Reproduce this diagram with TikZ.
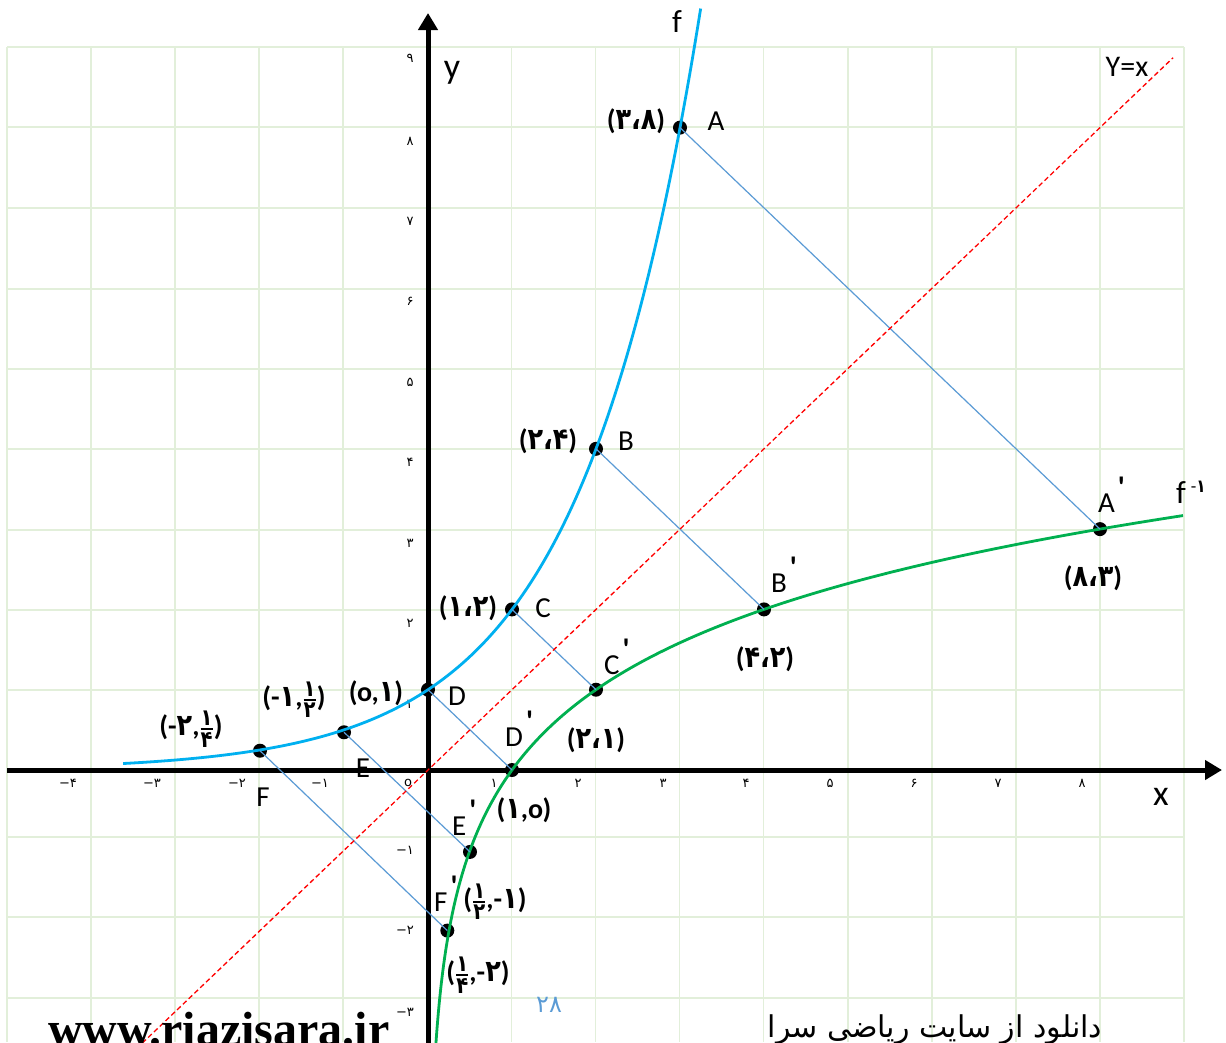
\documentclass[tikz,border=0pt]{standalone}
\usepackage{fontspec}
\usepackage{amsmath}
\usetikzlibrary{arrows.meta}
\TeXXeTstate=1
\setmainfont{Carlito}
\newfontfamily\lat{Carlito}
\newfontfamily\fd[FakeStretch=0.85]{DejaVu Sans}
\newfontfamily\fdr{DejaVu Sans}
\newfontfamily\arfont[Script=Arabic]{DejaVu Sans}
\newfontfamily\webfont{Liberation Serif}
\definecolor{gridgreen}{HTML}{E2EFDA}
\definecolor{fblue}{HTML}{00B0F0}
\definecolor{fgreen}{HTML}{00B050}
\definecolor{connblue}{HTML}{5B9BD5}
\newcommand\pdig[1]{\hbox{\fd\bfseries\fontsize{30pt}{30pt}\selectfont #1}}
\newcommand\sdig[1]{\hbox{\fd\bfseries\fontsize{23pt}{23pt}\selectfont #1}}
\newcommand\pfrac[2]{\ensuremath{\genfrac{}{}{2pt}{}{\sdig{#1}}{\sdig{#2}}}}
\newcommand\primemark{\hspace{3pt}\raisebox{15pt}{\fontsize{30pt}{30pt}\selectfont\bfseries\textquotesingle}}
\begin{document}
\begin{tikzpicture}[x=1pt,y=-1pt,
  gridline/.style={draw=gridgreen,line width=1.6pt},
  axisline/.style={line width=5pt,-{Triangle[length=17pt,width=19pt]}},
  fcurve/.style={draw=fblue,line width=2.8pt},
  gcurve/.style={draw=fgreen,line width=2.8pt},
  conn/.style={draw=connblue,line width=1.2pt},
  diag/.style={draw=red,line width=1.3pt,dash pattern=on 5pt off 3pt},
  dot/.style={circle,fill=black,inner sep=0pt,minimum size=14pt},
  plab/.style={font=\lat\fontsize{29pt}{29pt}\selectfont,inner sep=0pt},
  plabw/.style={font=\lat\fontsize{29pt}{29pt}\selectfont,inner sep=0pt,anchor=base west},
  clab/.style={font=\lat\bfseries\fontsize{28pt}{28pt}\selectfont,inner sep=0pt},
  axlab/.style={font=\lat\fontsize{36pt}{36pt}\selectfont,inner sep=0pt},
  tick/.style={font=\fdr\fontsize{13pt}{13pt}\selectfont,inner sep=0pt}]
\useasboundingbox (0,0) rectangle (1226,1042);
\fill[white] (0,0) rectangle (1226,1042);
% grid
\foreach \k in {0,...,14}{\draw[gridline] ({7+84.07*\k},47) -- ({7+84.07*\k},1042);}
\foreach \gy in {47,127,208,289,369,449,530,610,690,770,837,917,998}{\draw[gridline] (7,\gy) -- (1184,\gy);}
% axes
\coordinate (xa0) at (7,770);
\coordinate (xa1) at (1222,770);
\coordinate (ya0) at (428,1050);
\coordinate (ya1) at (428,13);
\draw[axisline] (xa0) -- (xa1);
\draw[axisline] (ya0) -- (ya1);
% tick labels
\foreach \v/\t [count=\i] in {68/−۴,152/−۳,237/−۲,320/−۱,408/o,494/۱,578/۲,663/۳,746/۴,830/۵,914/۶,998/۷,1082/۸}{\node[tick] (tx\i) at (\v,783) {\t};}
\foreach \v/\t [count=\i] in {58/۹,141/۸,221/۷,301/۶,382/۵,462/۴,543/۳,623/۲}{\node[tick] (ty\i) at (410,\v) {\t};}
\node[tick] (ty9) at (409,704) {۱};
\node[tick] (ty10) at (405,850) {−۱};
\node[tick] (ty11) at (405,930) {−۲};
\node[tick] (ty12) at (405,1012) {−۳};
% math scope
\begin{scope}[shift={(428,770)},x=84pt,y=80.3pt]
  \node[dot] (A) at (3,8) {};
  \node[dot] (B) at (2,4) {};
  \node[dot] (C) at (1,2) {};
  \node[dot] (D) at (0,1) {};
  \node[dot] (E) at (-1,0.47) {};
  \node[dot] (F) at (-2,0.24) {};
  \node[dot] (Ap) at (8,3) {};
  \node[dot] (Bp) at (4,2) {};
  \node[dot] (Cp) at (2,1) {};
  \node[dot] (Dp) at (1,0) {};
  \node[dot] (Ep) at (0.5,-1.02) {};
  \node[dot] (Fp) at (0.23,-2) {};
  \draw[fcurve] plot[domain=-3.63:3.246,samples=160,smooth] (\x,{pow(2,\x)});
  \draw[gcurve] plot[domain=-3.45:3.17,samples=160,smooth] ({pow(2,\x)},\x);
  \draw[conn] (A.center) -- (Ap.center);
  \draw[conn] (B.center) -- (Bp.center);
  \draw[conn] (C.center) -- (Cp.center);
  \draw[conn] (D.center) -- (Dp.center);
  \draw[conn] (E.center) -- (Ep.center);
  \draw[conn] (F.center) -- (Fp.center);
  \coordinate (d1) at (-3.4,-3.4);
  \coordinate (d2) at (8.87,8.87);
  \draw[diag] (d1) -- (d2);
\end{scope}
% axis labels
\node[axlab] (ly) at (452,73) {y};
\node[axlab] (lx) at (1161,797) {x};
\node[axlab,font=\lat\fontsize{32pt}{32pt}\selectfont] (lf) at (677,22) {f};
\node[inner sep=0pt,anchor=base west,font=\lat\fontsize{32pt}{32pt}\selectfont] (lfi) at (1176,503) {f\hspace{5pt}\raisebox{11pt}{\fontsize{18pt}{18pt}\selectfont -\hbox{\fd\bfseries ۱}}};
\node[plab,font=\lat\fontsize{30pt}{30pt}\selectfont] (lyx) at (1127,67) {Y=x};
% point labels
\node[plab] (lA) at (716,121) {A};
\node[clab] (cA) at (636,121) {(\pdig{۳}\pdig{،}\pdig{۸})};
\node[plab] (lB) at (626,441) {B};
\node[clab] (cB) at (548,441) {(\pdig{۲}\pdig{،}\pdig{۴})};
\node[plab] (lC) at (543,608) {C};
\node[clab] (cC) at (468,608) {(\pdig{۱}\pdig{،}\pdig{۲})};
\node[plab] (lD) at (457,696) {D};
\node[clab] (cD) at (376,693) {(o,\pdig{۱})};
\node[plab] (lE) at (363,768) {E};
\node[clab] (cE) at (294,700) {(-\pdig{۱},\pfrac{۱}{۲})};
\node[plab] (lF) at (263,797) {F};
\node[clab] (cF) at (191,729) {(-\pdig{۲},\pfrac{۱}{۴})};
\node[plabw] (lAp) at (1098,512) {A\primemark};
\node[plabw] (lBp) at (771,592) {B\primemark};
\node[plabw] (lCp) at (604,674) {C\primemark};
\node[plabw] (lDp) at (505,746) {D\primemark};
\node[plabw] (lEp) at (452,835) {E\primemark};
\node[plabw] (lFp) at (434,911) {F\primemark};
\node[clab] (cAp) at (1093,578) {(\pdig{۸}\pdig{،}\pdig{۳})};
\node[clab] (cBp) at (765,659) {(\pdig{۴}\pdig{،}\pdig{۲})};
\node[clab] (cCp) at (596,740) {(\pdig{۲}\pdig{،}\pdig{۱})};
\node[clab] (cDp) at (524,810) {(\pdig{۱},o)};
\node[clab] (cEp) at (495,902) {(\pfrac{۱}{۲},-\pdig{۱})};
\node[clab] (cFp) at (478,975) {(\pfrac{۱}{۴},-\pdig{۲})};
% page number and footer
\node[inner sep=0pt,text=connblue,font=\fdr\fontsize{24pt}{24pt}\selectfont] (pg) at (549,1005) {۲۸};
\node[inner sep=0pt,anchor=base west,font=\webfont\bfseries\fontsize{48pt}{48pt}\selectfont] (web) at (48,1045) {www.riazisara.ir};
\node[inner sep=0pt,anchor=base,font=\arfont\fontsize{30pt}{30pt}\selectfont] (fa) at (935,1037) {\beginR دانلود از سایت ریاضی سرا\endR};
\end{tikzpicture}
\end{document}
